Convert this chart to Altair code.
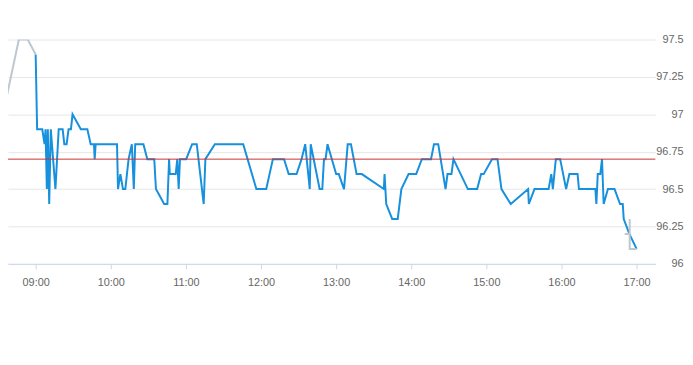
import altair as alt
import pandas as pd

DAY = "2024-01-02"

# Main series (blue)
blue_times = [
    "09:00:00", "09:01:10", "09:05:17", "09:07:06", "09:07:54", "09:08:55", "09:09:43", "09:10:49",
    "09:12:05", "09:15:47", "09:18:24", "09:21:33", "09:22:54", "09:24:43", "09:26:17", "09:28:11",
    "09:29:27", "09:36:05", "09:41:17", "09:43:58", "09:46:35", "09:47:08", "09:47:55", "10:04:59",
    "10:05:46", "10:07:40", "10:09:43", "10:11:37", "10:14:13", "10:16:49", "10:18:24", "10:19:30",
    "10:26:04", "10:29:13", "10:34:44", "10:36:05", "10:42:38", "10:45:14", "10:46:35", "10:47:08",
    "10:51:52", "10:53:08", "10:54:14", "10:55:16", "11:00:14", "11:04:59", "11:08:41", "11:14:13",
    "11:15:34", "11:23:08", "11:45:48", "11:56:17", "12:04:11", "12:09:29", "12:18:24", "12:22:07",
    "12:28:26", "12:32:23", "12:35:18", "12:38:56", "12:39:43", "12:46:49", "12:48:58", "12:50:18",
    "12:51:34", "12:53:08", "13:00:01", "13:02:08", "13:06:19", "13:09:15", "13:11:51", "13:16:21",
    "13:20:32", "13:38:08", "13:38:42", "13:40:02", "13:44:47", "13:49:12", "13:52:07", "13:57:53",
    "14:03:58", "14:08:28", "14:15:48", "14:18:10", "14:21:34", "14:27:24", "14:28:59", "14:32:08",
    "14:33:43", "14:45:14", "14:52:40", "14:55:49", "14:57:52", "15:04:30", "15:08:55", "15:12:05",
    "15:19:30", "15:33:23", "15:33:57", "15:38:27", "15:49:44", "15:51:52", "15:53:08", "15:55:30",
    "15:58:58", "16:03:43", "16:06:20", "16:12:52", "16:13:59", "16:27:05", "16:27:53", "16:28:59",
    "16:31:02", "16:32:23", "16:33:43", "16:37:07", "16:42:24", "16:46:49", "16:48:58", "16:49:45",
    "16:54:15", "17:00:00",
]
blue_values = [
    97.4, 96.9, 96.9, 96.8, 96.9, 96.5, 96.9, 96.4,
    96.9, 96.5, 96.9, 96.9, 96.8, 96.8, 96.9, 96.9,
    97.0, 96.9, 96.9, 96.8, 96.8, 96.7, 96.8, 96.8,
    96.5, 96.6, 96.5, 96.5, 96.7, 96.8, 96.5, 96.8,
    96.8, 96.7, 96.7, 96.5, 96.4, 96.4, 96.7, 96.6,
    96.6, 96.7, 96.5, 96.7, 96.7, 96.8, 96.8, 96.4,
    96.7, 96.8, 96.8, 96.5, 96.5, 96.7, 96.7, 96.6,
    96.6, 96.7, 96.8, 96.5, 96.8, 96.5, 96.5, 96.7,
    96.7, 96.8, 96.6, 96.6, 96.5, 96.8, 96.8, 96.6,
    96.6, 96.5, 96.6, 96.4, 96.3, 96.3, 96.5, 96.6,
    96.6, 96.7, 96.7, 96.8, 96.8, 96.5, 96.6, 96.6,
    96.7, 96.5, 96.5, 96.6, 96.6, 96.7, 96.7, 96.5,
    96.4, 96.5, 96.4, 96.5, 96.5, 96.6, 96.5, 96.7,
    96.7, 96.5, 96.6, 96.6, 96.5, 96.5, 96.4, 96.6,
    96.6, 96.7, 96.4, 96.5, 96.5, 96.4, 96.4, 96.3,
    96.2, 96.1,
]

# Secondary series (grey): pre-open and closing
grey_pre_times = ["08:30:00", "08:46:35", "08:53:41", "09:00:00"]
grey_pre_values = [96.85, 97.5, 97.5, 97.4]
grey_post_times = ["16:50:32", "16:54:30", "16:54:30", "16:54:30", "17:00:00"]
grey_post_values = [96.2, 96.2, 96.3, 96.1, 96.1]

ref_value = 96.7
y_ticks = [96, 96.25, 96.5, 96.75, 97, 97.25, 97.5]
x_tick_hours = [9, 10, 11, 12, 13, 14, 15, 16, 17]

blue_df = pd.DataFrame({
    "t": [f"{DAY}T{t}" for t in blue_times],
    "v": blue_values,
    "i": list(range(len(blue_times))),
})
grey_rows = []
for seg, (ts, vs) in enumerate([(grey_pre_times, grey_pre_values), (grey_post_times, grey_post_values)]):
    for i, (t, v) in enumerate(zip(ts, vs)):
        grey_rows.append({"t": f"{DAY}T{t}", "v": v, "i": i, "seg": seg})
grey_df = pd.DataFrame(grey_rows)
ref_df = pd.DataFrame({"v": [ref_value]})

FONT = "Liberation Sans"
LABEL = "#666666"

x_scale = alt.Scale(domain=[f"{DAY}T08:37:54", f"{DAY}T17:15:00"])
y_scale = alt.Scale(domain=[96, 97.5], nice=False, zero=False)

x_axis = alt.Axis(
    values=[alt.DateTime(year=2024, month=1, date=2, hours=h) for h in x_tick_hours],
    format="%H:%M", grid=False, domainColor="#ccd6eb", tickColor="#ccd6eb",
    tickSize=5, labelPadding=8, labelColor=LABEL, labelFontSize=11, labelFont=FONT,
)
y_axis = alt.Axis(
    orient="right", values=y_ticks, labelExpr="'' + datum.value", gridColor="#e6e6e6",
    domain=False, ticks=False, labelAlign="right", labelPadding=28, labelColor=LABEL,
    labelFontSize=11, labelFont=FONT, labelOverlap=False,
)
x_enc = alt.X("t:T", scale=x_scale, title=None, axis=x_axis)
y_enc = alt.Y("v:Q", scale=y_scale, title=None, axis=y_axis)

blue = alt.Chart(blue_df).mark_line(color="#1790dd", strokeWidth=2, clip=True).encode(
    x=x_enc, y=y_enc, order="i:Q"
)
grey = alt.Chart(grey_df).mark_line(color="#bcc7d1", strokeWidth=2, clip=True).encode(
    x=x_enc, y=y_enc, detail="seg:N", order="i:Q"
)
ref = alt.Chart(ref_df).mark_rule(color="#cc3333", strokeWidth=1).encode(y=y_enc)

chart = alt.layer(blue, ref, grey).properties(
    width=655, height=227,
    autosize=alt.AutoSizeParams(type="none"),
    padding={"left": 0, "top": 30, "right": 30, "bottom": 60},
).configure_view(stroke=None)

chart.save("out.html", embed_options={"renderer": "svg", "actions": False})
